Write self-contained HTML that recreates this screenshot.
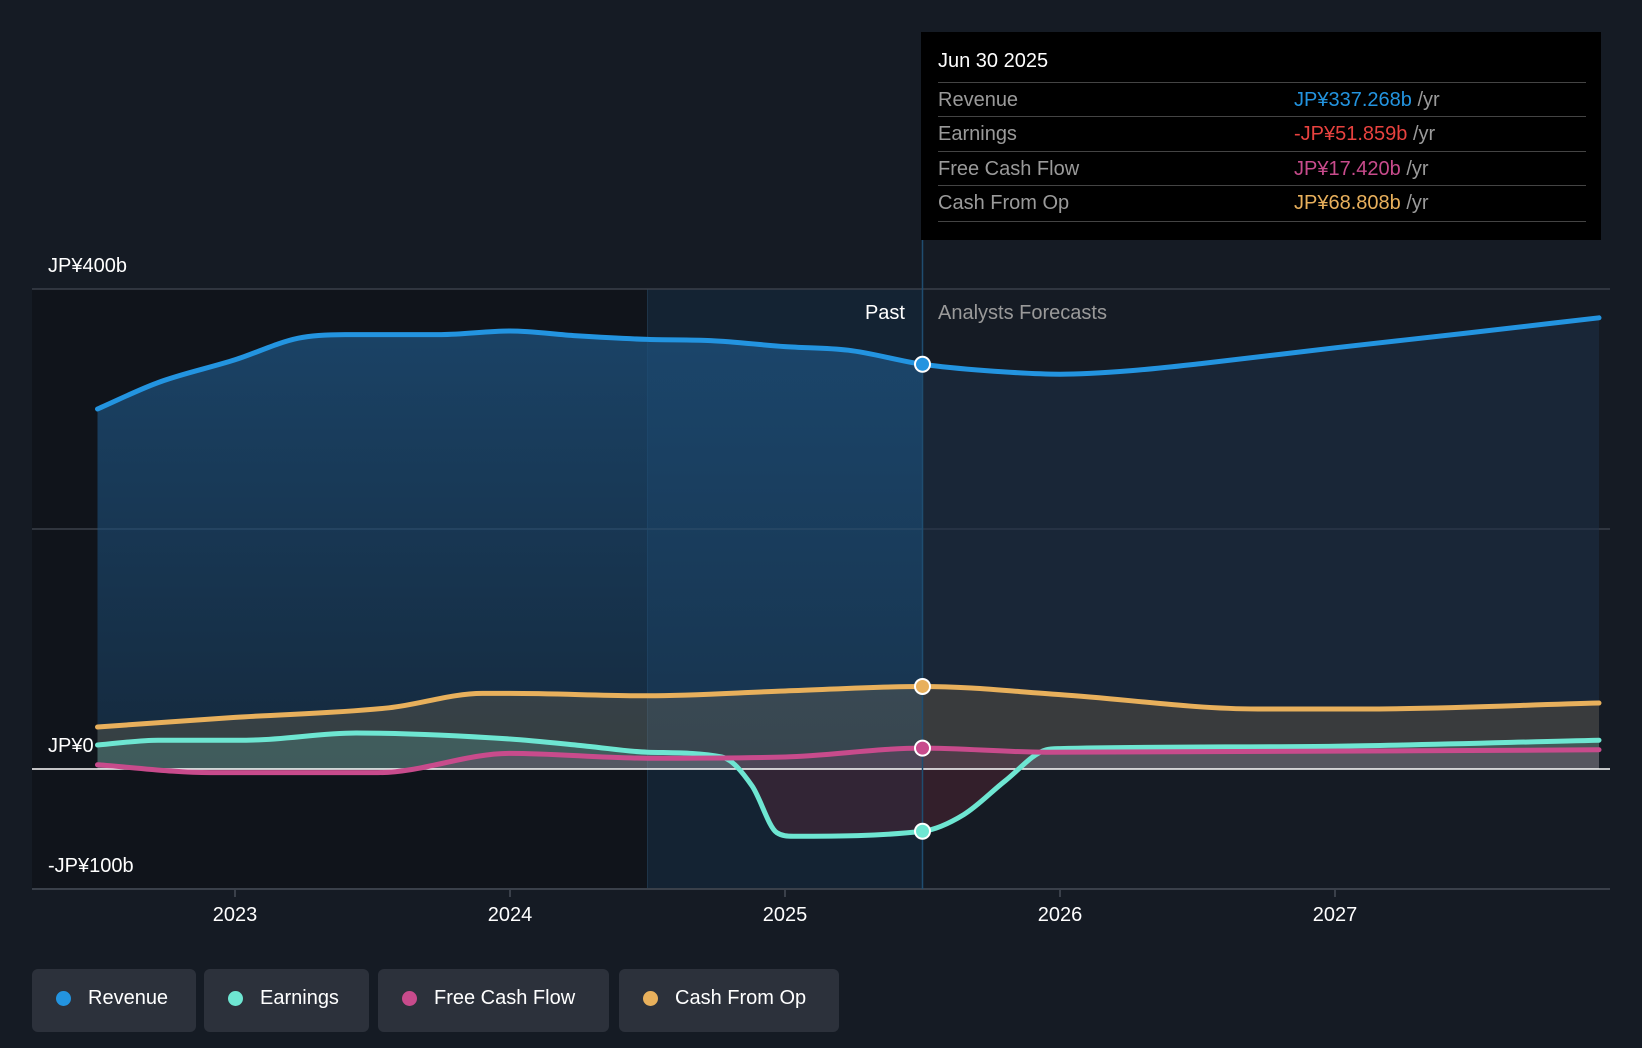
<!DOCTYPE html>
<html><head><meta charset="utf-8"><style>
body{margin:0;background:#151b24;font-family:"Liberation Sans",sans-serif;}
#wrap{position:relative;width:1642px;height:1048px;overflow:hidden;background:#151b24;}
svg{position:absolute;left:0;top:0;}
.leg{position:absolute;top:969px;height:63px;background:#2c313b;border-radius:6px;color:#fff;font-size:20px;line-height:58px;box-sizing:border-box;padding-left:56px;}
.leg i{position:absolute;left:24px;top:22px;width:15px;height:15px;border-radius:50%;}
#tip{position:absolute;left:921px;top:32px;width:680px;height:208px;background:#000;color:#fff;}
.row{position:absolute;left:17px;width:648px;height:34px;border-top:1px solid #444;font-size:20px;line-height:34px;color:#9a9a9a;}
.row span{position:absolute;left:356px;}
</style></head><body>
<div id="wrap">
<svg id="chart" width="1642" height="1048"></svg>
<div id="tip">
 <div style="position:absolute;left:17px;top:18px;font-size:20px;">Jun 30 2025</div>
 <div class="row" style="top:50px">Revenue<span><b style="font-weight:normal;color:#2394e0">JP¥337.268b</b> /yr</span></div>
 <div class="row" style="top:84px">Earnings<span><b style="font-weight:normal;color:#e8423f">-JP¥51.859b</b> /yr</span></div>
 <div class="row" style="top:119px">Free Cash Flow<span><b style="font-weight:normal;color:#c84b8c">JP¥17.420b</b> /yr</span></div>
 <div class="row" style="top:153px;">Cash From Op<span><b style="font-weight:normal;color:#e8b05c">JP¥68.808b</b> /yr</span></div>
 <div style="position:absolute;left:17px;top:189px;width:648px;border-top:1px solid #444"></div>
</div>
<div class="leg" style="left:32px;width:164px"><i style="background:#2394e0"></i>Revenue</div>
<div class="leg" style="left:204px;width:165px"><i style="background:#6ee6d2"></i>Earnings</div>
<div class="leg" style="left:378px;width:231px"><i style="background:#c84b8c"></i>Free Cash Flow</div>
<div class="leg" style="left:619px;width:220px"><i style="background:#e8b05c"></i>Cash From Op</div>
</div>
<script>
const revT=[2022.5,2022.72,2023.0,2023.23,2023.4,2023.75,2024.0,2024.24,2024.5,2024.73,2025.0,2025.23,2025.5,2025.73,2026.0,2026.26,2026.52,2027.0,2027.47,2027.96];
const revV=[300,322,341,359,362,362,365,361,358,357,352,349,337.3,332,329,332,338,351,363,376];
const cfoT=[2022.5,2023.0,2023.56,2023.9,2024.0,2024.5,2025.0,2025.5,2026.0,2026.72,2027.1,2027.96];
const cfoV=[35,43,51,63,63,61,65,68.8,62,50,50,55];
const earnT=[2022.5,2022.72,2023.04,2023.44,2024.0,2024.28,2024.5,2024.77,2024.88,2024.97,2025.03,2025.5,2025.65,2025.8,2025.95,2026.0,2027.0,2027.96];
const earnV=[20,24,24,30,25,19,14,10,-14,-53,-56,-51.9,-38,-10,16,17,19,24];
const fcfT=[2022.5,2022.91,2023.52,2024.0,2024.5,2025.0,2025.5,2025.95,2027.96];
const fcfV=[3.5,-3,-3,13,9,10,17.4,14,16];
const yTicks=[400,0,-100];const yLabels=["JP¥400b","JP¥0","-JP¥100b"];
const years=[2023,2024,2025,2026,2027];
const X=t=>785+(t-2025)*275, Y=v=>769-v*1.2;
const s=document.getElementById('chart');const NS='http://www.w3.org/2000/svg';
function mk(tag,a,name){const e=document.createElementNS(NS,tag);for(const k in a)e.setAttribute(k,a[k]);


s.appendChild(e);return e;}
function path(T,V){const p=T.map((t,i)=>[X(t),Y(V[i])]);const n=p.length;
const d0=[],m=[];for(let i=0;i<n-1;i++)d0.push((p[i+1][1]-p[i][1])/(p[i+1][0]-p[i][0]));
for(let i=0;i<n;i++){if(i==0)m.push(d0[0]);else if(i==n-1)m.push(d0[n-2]);else m.push(d0[i-1]*d0[i]<=0?0:(d0[i-1]+d0[i])/2);}
for(let i=0;i<n-1;i++){if(d0[i]==0){m[i]=0;m[i+1]=0;continue;}const a=m[i]/d0[i],b=m[i+1]/d0[i],h=a*a+b*b;if(h>9){const t=3/Math.sqrt(h);m[i]=t*a*d0[i];m[i+1]=t*b*d0[i];}}
let d='M'+p[0][0]+','+p[0][1];
for(let i=0;i<n-1;i++){const h=(p[i+1][0]-p[i][0])/3;d+=`C${p[i][0]+h},${p[i][1]+m[i]*h} ${p[i+1][0]-h},${p[i+1][1]-m[i+1]*h} ${p[i+1][0]},${p[i+1][1]}`;}return d;}
const defs=mk('defs',{},'defs');
const x0=X(2022.5),xp=X(2024.5),xn=X(2025.5),xe=X(2027.96);
defs.innerHTML=`<linearGradient id="rg" x1="0" y1="0" x2="0" y2="1"><stop offset="0" stop-color="#1d4f7a" stop-opacity="0.8"/><stop offset="1" stop-color="#1d4f7a" stop-opacity="0.35"/></linearGradient>
<clipPath id="cp"><rect x="0" y="0" width="${xn}" height="1048"/></clipPath><clipPath id="cf"><rect x="${xn}" y="0" width="1000" height="1048"/></clipPath>
<clipPath id="ca"><rect x="0" y="0" width="1642" height="${Y(0)}"/></clipPath><clipPath id="cb"><rect x="0" y="${Y(0)}" width="1642" height="400"/></clipPath>`;
mk('rect',{x:32,y:289,width:xp-32,height:600,fill:'#10141b'},'past-background');
mk('rect',{x:xp,y:289,width:xn-xp,height:600,fill:'#14263a',opacity:0.7},'past-highlight');
mk('line',{x1:xp,y1:289,x2:xp,y2:889,stroke:'#1e3448','stroke-width':1},'highlight-edge');
[400,200].forEach(v=>mk('line',{x1:32,x2:1610,y1:Y(v),y2:Y(v),stroke:'#3a404a','stroke-width':1.5},'gridline'));
const ra=path(revT,revV)+`L${xe},${Y(0)}L${x0},${Y(0)}Z`;
mk('path',{d:ra,fill:'url(#rg)','clip-path':'url(#cp)'},'revenue-area-past');
mk('path',{d:ra,fill:'#1d3047',opacity:0.55,'clip-path':'url(#cf)'},'revenue-area-forecast');
mk('path',{d:path(cfoT,cfoV)+`L${xe},${Y(0)}L${x0},${Y(0)}Z`,fill:'#e8b05c',opacity:0.16},'cfo-area');
const ea=path(earnT,earnV)+`L${xe},${Y(0)}L${x0},${Y(0)}Z`;
mk('path',{d:ea,fill:'#6ee6d2',opacity:0.18,'clip-path':'url(#ca)'},'earnings-area');
mk('path',{d:ea,fill:'#7a2a3a',opacity:0.3,'clip-path':'url(#cb)'},'earnings-negative-area');
mk('path',{d:path(fcfT,fcfV)+`L${xe},${Y(0)}L${x0},${Y(0)}Z`,fill:'#c84b8c',opacity:0.15},'fcf-area');
mk('line',{x1:32,x2:1610,y1:Y(0),y2:Y(0),stroke:'#fff','stroke-width':1.5},'zero-line');
mk('line',{x1:32,x2:1610,y1:889,y2:889,stroke:'#3a404a','stroke-width':2},'x-axis');
mk('line',{x1:xn,y1:240,x2:xn,y2:889,stroke:'#1f4d70','stroke-width':1.5},'now-line');
[[revT,revV,'#2394e0','revenue-line'],[cfoT,cfoV,'#e8b05c','cfo-line'],[earnT,earnV,'#6ee6d2','earnings-line'],[fcfT,fcfV,'#c84b8c','fcf-line']].forEach(a=>
 mk('path',{d:path(a[0],a[1]),fill:'none',stroke:a[2],'stroke-width':5,'stroke-linecap':'round'},a[3]));
[[revV[12],'#2394e0','revenue-marker'],[cfoV[7],'#e8b05c','cfo-marker'],[fcfV[6],'#c84b8c','fcf-marker'],[earnV[11],'#6ee6d2','earnings-marker']].forEach(a=>
 mk('circle',{cx:xn,cy:Y(a[0]),r:7.5,fill:a[1],stroke:'#fff','stroke-width':2},a[2]));
yTicks.forEach((v,i)=>{const t=mk('text',{x:48,y:Y(v)-17,fill:'#fff','font-size':20},'y-label');t.textContent=yLabels[i];});
years.forEach(y=>{mk('line',{x1:X(y),x2:X(y),y1:889,y2:897,stroke:'#3a404a','stroke-width':2},'x-tick');
const t=mk('text',{x:X(y),y:921,fill:'#fff','font-size':20,'text-anchor':'middle'},'x-label');t.textContent=y;});
let t=mk('text',{x:905,y:319,fill:'#fff','font-size':20,'text-anchor':'end'},'past-label');t.textContent='Past';
t=mk('text',{x:938,y:319,fill:'#9a9a9a','font-size':20},'forecast-label');t.textContent='Analysts Forecasts';
</script>
</body></html>
